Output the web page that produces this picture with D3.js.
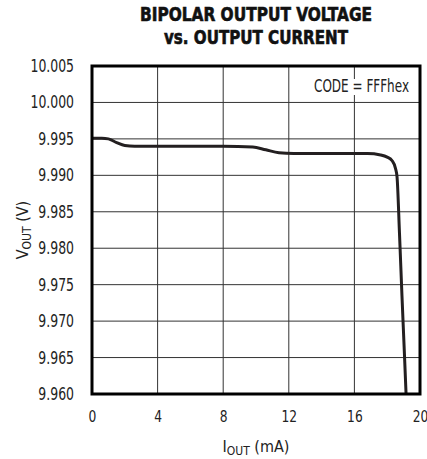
<!DOCTYPE html>
<html>
<head>
<meta charset="utf-8">
<script src="https://cdn.jsdelivr.net/npm/d3@7"></script>
<style>
  html, body { margin: 0; padding: 0; background: #fff; }
  svg { display: block; }
  .narrow { font-family: "Liberation Sans Narrow", "DejaVu Sans Condensed", "Roboto Condensed", sans-serif; }
</style>
</head>
<body>
<svg id="chart" width="427" height="459"></svg>
<script>
// Output current (mA) and bipolar output voltage (V), code = FFFhex
const currentMA = [0, 0.6, 1.0, 1.5, 2.0, 2.6, 4, 8, 9.8, 10.6, 11.4, 12.3, 14, 16, 16.8, 17.6, 18.0, 18.3, 18.5, 18.6, 18.75, 18.9, 19.05, 19.15];
const voutV     = [9.9951, 9.9951, 9.9950, 9.9945, 9.9941, 9.9940, 9.9940, 9.9940, 9.9939, 9.9935, 9.9931, 9.9930, 9.9930, 9.9930, 9.9930, 9.9928, 9.9925, 9.9920, 9.9910, 9.9898, 9.9820, 9.9735, 9.9655, 9.9600];

const xTicks = [0, 4, 8, 12, 16, 20];
const yTicks = [9.960, 9.965, 9.970, 9.975, 9.980, 9.985, 9.990, 9.995, 10.000, 10.005];

const titleLines = ["BIPOLAR OUTPUT VOLTAGE", "vs. OUTPUT CURRENT"];
const annotation = "CODE = FFFhex";

const svg = d3.select("#chart");
const m = { left: 92, right: 420, top: 66, bottom: 394 };

const x = d3.scaleLinear().domain([0, 20]).range([m.left, m.right]);
const y = d3.scaleLinear().domain([9.960, 10.005]).range([m.bottom, m.top]);

// condensed width for numeric labels
const numLen = s => s.split("").reduce((a, c) => a + (c === "." ? 4.5 : 7.8), 0);

// Title (heavy condensed)
const titleLen = [232, 184];
svg.append("g").selectAll("text").data(titleLines).join("text")
  .attr("class", "narrow")
  .attr("x", 256).attr("y", (d, i) => 21 + i * 23)
  .attr("text-anchor", "middle")
  .attr("font-size", 19).attr("font-weight", "bold")
  .attr("fill", "#111").attr("stroke", "#111").attr("stroke-width", 0.6)
  .attr("textLength", (d, i) => titleLen[i])
  .attr("lengthAdjust", "spacingAndGlyphs")
  .text(d => d);

// Grid
const grid = svg.append("g");
grid.selectAll("line.v").data(xTicks.slice(1, -1)).join("line")
  .attr("x1", d => x(d)).attr("x2", d => x(d))
  .attr("y1", m.top).attr("y2", m.bottom)
  .attr("stroke", "#333").attr("stroke-width", 1);
grid.selectAll("line.h").data(yTicks.slice(1, -1)).join("line")
  .attr("x1", m.left).attr("x2", m.right)
  .attr("y1", d => y(d)).attr("y2", d => y(d))
  .attr("stroke", "#333").attr("stroke-width", 1);

// Annotation with white backing
const annG = svg.append("g");
const annBg = annG.append("rect").attr("fill", "#fff");
const ann = annG.append("text")
  .attr("class", "narrow")
  .attr("x", 409).attr("y", 92)
  .attr("text-anchor", "end")
  .attr("font-size", 17).attr("fill", "#222")
  .attr("textLength", 95).attr("lengthAdjust", "spacingAndGlyphs")
  .text(annotation);
const bb = ann.node().getBBox();
annBg.attr("x", bb.x - 2).attr("y", bb.y + 3)
  .attr("width", bb.width + 4).attr("height", bb.height - 4);

// Curve
const pts = currentMA.map((c, i) => [c, voutV[i]]);
const line = d3.line().x(d => x(d[0])).y(d => y(d[1])).curve(d3.curveMonotoneX);
svg.append("path")
  .datum(pts)
  .attr("fill", "none")
  .attr("stroke", "#231f20")
  .attr("stroke-width", 3)
  .attr("stroke-linejoin", "round")
  .attr("d", line);

// Frame
svg.append("rect")
  .attr("x", m.left).attr("y", m.top)
  .attr("width", m.right - m.left).attr("height", m.bottom - m.top)
  .attr("fill", "none").attr("stroke", "#000").attr("stroke-width", 3);

// Tick labels via D3 axes (labels only)
const xAxis = svg.append("g")
  .attr("transform", `translate(0,${m.bottom})`)
  .call(d3.axisBottom(x).tickValues(xTicks).tickSize(0).tickPadding(17).tickFormat(d3.format("d")));
xAxis.select(".domain").remove();
xAxis.selectAll("text").attr("class", "narrow").attr("font-size", 16).attr("fill", "#222")
  .attr("textLength", function () { return numLen(this.textContent); })
  .attr("lengthAdjust", "spacingAndGlyphs");

const yAxis = svg.append("g")
  .attr("transform", `translate(${m.left},0)`)
  .call(d3.axisLeft(y).tickValues(yTicks).tickSize(0).tickPadding(18).tickFormat(d3.format(".3f")));
yAxis.select(".domain").remove();
yAxis.selectAll("text").attr("class", "narrow").attr("font-size", 17).attr("fill", "#222")
  .attr("textLength", function () { return numLen(this.textContent); })
  .attr("lengthAdjust", "spacingAndGlyphs");

// Axis titles
const xt = svg.append("text").attr("class", "narrow")
  .attr("x", 256).attr("y", 452).attr("text-anchor", "middle")
  .attr("font-size", 16).attr("fill", "#222");
xt.append("tspan").text("I");
xt.append("tspan").attr("font-size", 12).attr("dy", 3).text("OUT");
xt.append("tspan").attr("dy", -3).text(" (mA)");

const yt = svg.append("text").attr("class", "narrow")
  .attr("transform", `translate(28,${(m.top + m.bottom) / 2}) rotate(-90)`)
  .attr("text-anchor", "middle")
  .attr("font-size", 16).attr("fill", "#222");
yt.append("tspan").text("V");
yt.append("tspan").attr("font-size", 12).attr("dy", 3).text("OUT");
yt.append("tspan").attr("dy", -3).text(" (V)");
</script>
</body>
</html>
